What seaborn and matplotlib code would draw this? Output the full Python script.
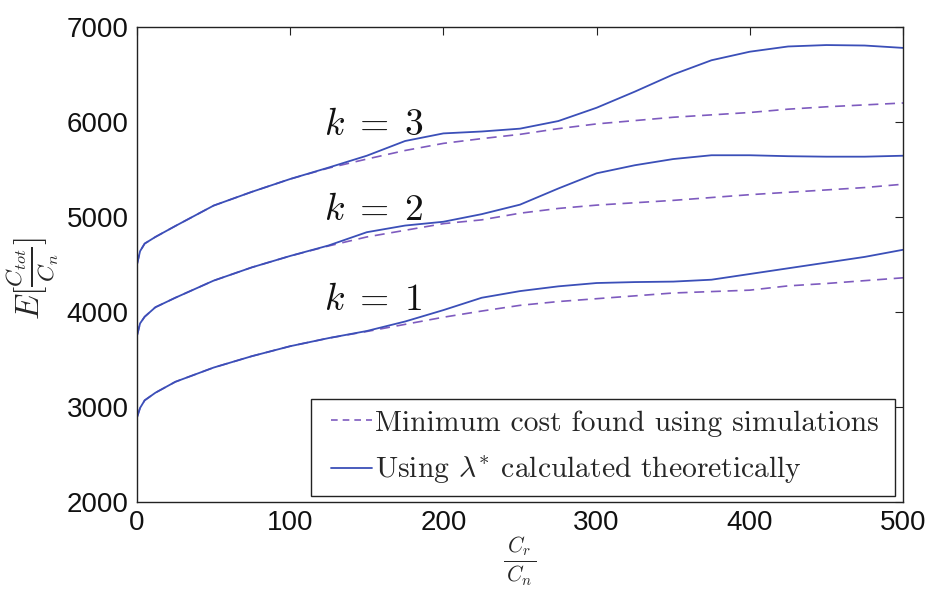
import numpy as np
import pandas as pd
import matplotlib
matplotlib.use("Agg")
import matplotlib.pyplot as plt
from matplotlib.lines import Line2D
from matplotlib.patches import Rectangle
import seaborn as sns

# ---- data ----
x_vals = [0, 2, 5, 12, 25, 50, 75, 100, 125, 150, 175, 200, 225, 250, 275,
          300, 325, 350, 375, 400, 425, 450, 475, 500]

k3_theory = [4500, 4640, 4720, 4790, 4905, 5120, 5265, 5400, 5520, 5645, 5800, 5880,
             5900, 5930, 6010, 6150, 6320, 6500, 6650, 6740, 6795, 6810, 6805, 6780]
k3_sim = [4500, 4640, 4720, 4790, 4905, 5120, 5265, 5400, 5515, 5610, 5700, 5775,
          5825, 5870, 5930, 5980, 6015, 6050, 6075, 6100, 6135, 6160, 6180, 6200]

k2_theory = [3750, 3880, 3950, 4050, 4150, 4330, 4470, 4590, 4700, 4840, 4910, 4950,
             5030, 5130, 5300, 5460, 5545, 5610, 5650, 5650, 5640, 5635, 5635, 5645]
k2_sim = [3750, 3880, 3950, 4050, 4150, 4330, 4470, 4590, 4695, 4790, 4860, 4930,
          4970, 5040, 5090, 5125, 5150, 5175, 5205, 5235, 5260, 5285, 5310, 5345]

k1_theory = [2890, 2990, 3070, 3150, 3265, 3415, 3535, 3640, 3725, 3800, 3900, 4020,
             4150, 4220, 4270, 4305, 4315, 4320, 4340, 4400, 4460, 4520, 4580, 4655]
k1_sim = [2890, 2990, 3070, 3150, 3265, 3415, 3535, 3640, 3725, 3795, 3870, 3945,
          4010, 4070, 4110, 4140, 4170, 4200, 4215, 4230, 4275, 4300, 4330, 4360]

k_labels = [r"$k\;=\;1$", r"$k\;=\;2$", r"$k\;=\;3$"]
k_label_y = [4126, 5074, 5968]
legend_labels = ["Minimum cost found using simulations",
                 r"Using $\lambda^{*}$ calculated theoretically"]
x_ticks = [0, 100, 200, 300, 400, 500]
y_ticks = [2000, 3000, 4000, 5000, 6000, 7000]

# ---- style ----
sns.set_style("white")
plt.rcParams["font.family"] = ["Liberation Sans", "DejaVu Sans"]
plt.rcParams["mathtext.fontset"] = "cm"

solid_color = "#3B4FB8"
dash_color = "#7E5BBF"

fig = plt.figure(figsize=(9.3, 5.89), dpi=100)
ax = fig.add_axes([137 / 930, (589 - 502) / 589, 766 / 930, 475 / 589])

sim_series = [k1_sim, k2_sim, k3_sim]
theory_series = [k1_theory, k2_theory, k3_theory]

for sim in sim_series:
    df = pd.DataFrame({"x": x_vals, "y": sim})
    sns.lineplot(data=df, x="x", y="y", ax=ax, color=dash_color, lw=1.2,
                 linestyle=(0, (6, 4)), sort=True)
for th in theory_series:
    df = pd.DataFrame({"x": x_vals, "y": th})
    sns.lineplot(data=df, x="x", y="y", ax=ax, color=solid_color, lw=1.3, sort=True)

ax.set_xlim(0, 500)
ax.set_ylim(2000, 7000)
ax.set_xticks(x_ticks)
ax.set_yticks(y_ticks)
ax.tick_params(direction="in", length=6, width=0.8, top=True, right=True,
               labelsize=20, pad=6, colors="#222222")
ax.tick_params(axis="both", labelcolor="#111111")
for s in ax.spines.values():
    s.set_linewidth(1.0)
    s.set_color("#222222")

for lbl, yv in zip(k_labels, k_label_y):
    ax.text(122, yv, lbl, fontsize=27, va="center", ha="left", color="#111111")

ax.set_xlabel(r"$\frac{\,C_r\,}{\,C_n\,}$", fontsize=22)
ax.set_ylabel(r"$E[\frac{C_{tot}}{C_n}]$", fontsize=24)
ax.xaxis.set_label_coords(0.5, -0.070)
ax.yaxis.set_label_coords(-0.099, 0.47)

# legend: entries without frame, frame drawn as a box
handles = [Line2D([], [], color=dash_color, lw=1.2, linestyle=(0, (4, 3))),
           Line2D([], [], color=solid_color, lw=1.3)]
leg = ax.legend(handles, legend_labels, loc="upper left",
                bbox_to_anchor=(0.2533, 0.194), prop={"family": "cmr10", "size": 21.3},
                frameon=False, handlelength=1.4, handletextpad=0.1, borderpad=0.0,
                labelspacing=0.62, borderaxespad=0.0)
ax.add_patch(Rectangle((0.2272, 0.0126), 0.7624, 0.2042, transform=ax.transAxes,
                       fill=False, edgecolor="#222222", lw=1.0, zorder=5))

fig.savefig("out.png", dpi=100)
